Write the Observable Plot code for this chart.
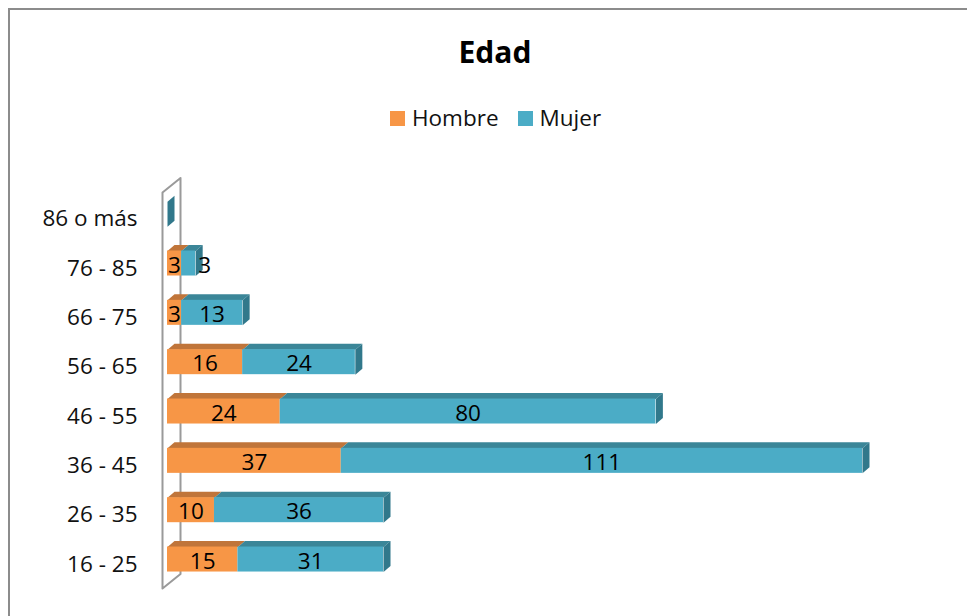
<!DOCTYPE html>
<html>
<head>
<meta charset="utf-8">
<script src="https://cdn.jsdelivr.net/npm/d3@7"></script>
<script src="https://cdn.jsdelivr.net/npm/@observablehq/plot@0.6"></script>
<style>
  html, body { margin: 0; padding: 0; background: #fff; overflow: hidden; width: 967px; height: 616px; }
  #frame { position: absolute; left: 8px; top: 8px; width: 1000px; height: 700px; border-top: 2px solid #8c8c8c; border-left: 2px solid #8c8c8c; box-sizing: border-box; }
  #header { position: relative; height: 160px; font-family: "Open Sans", sans-serif; }
  #title { position: absolute; left: 0; width: 990px; top: 32px; text-align: center; font-weight: 700; font-size: 30px; color: #000; line-height: 40px; }
  #legend { position: absolute; left: 390px; top: 103px; font-size: 22.5px; color: #111; display: flex; align-items: center; line-height: 30px; }
  .sw { display: inline-block; width: 15px; height: 15px; margin-right: 7px; }
  #chart { position: relative; }
</style>
</head>
<body>
<div id="frame"></div>
<div id="header">
  <div id="title">Edad</div>
  <div id="legend">
    <span class="sw" style="background:#F79646"></span><span style="margin-right:19px">Hombre</span>
    <span class="sw" style="background:#4BACC6"></span><span>Mujer</span>
  </div>
</div>
<div id="chart"></div>
<script>
const categories = ["86 o más", "76 - 85", "66 - 75", "56 - 65", "46 - 55", "36 - 45", "26 - 35", "16 - 25"];
const hombre = [0, 3, 3, 16, 24, 37, 10, 15];
const mujer = [0, 3, 13, 24, 80, 111, 36, 31];
const seriesNames = ["Hombre", "Mujer"];

const colors = {
  Hombre: { front: "#F79646", top: "#C0753A" },
  Mujer: { front: "#4BACC6", top: "#3B8698", side: "#31788B" }
};

// scale setup
const XMAX = 148, XR = [167, 862];
const YD = [-0.5, 7.5], YR = [29, 423.7];
const kx = (XR[1] - XR[0]) / XMAX;
const ky = (YR[1] - YR[0]) / (YD[1] - YD[0]);
const ux = px => px / kx, uy = px => px / ky;

const H = uy(12.5);     // half bar height
const DX = ux(7), DY = uy(6); // 3D depth

// segments
const segs = [];
categories.forEach((c, i) => {
  const h = hombre[i], m = mujer[i];
  segs.push({ i, series: "Hombre", x1: 0, x2: h, v: h });
  segs.push({ i, series: "Mujer", x1: h, x2: h + m, v: m });
});

// top-face polygons
const topPolys = { Hombre: [], Mujer: [] };
segs.forEach((s, k) => {
  if (s.v <= 0) return;
  const t = s.i - H;
  [[s.x1, t], [s.x2, t], [s.x2 + DX, t - DY], [s.x1 + DX, t - DY]].forEach(([x, y]) =>
    topPolys[s.series].push({ id: k, x, y }));
});

// side faces at stack ends
const sidePolys = [];
categories.forEach((c, i) => {
  const e = hombre[i] + mujer[i];
  const t = i - H, b = i + H;
  [[e, t], [e + DX, t - DY], [e + DX, b - DY], [e, b]].forEach(([x, y]) => sidePolys.push({ id: i, x, y }));
});

// category wall
const wxL = ux(-5), wxR = ux(13);
const wyT = YD[0] + uy(3), wyB = YD[1] + uy(4.3);
const wdy = uy(14.5);
const wall = [
  { x: wxL, y: wyB }, { x: wxL, y: wyT }, { x: wxR, y: wyT - wdy }, { x: wxR, y: wyB - wdy }, { x: wxL, y: wyB }
];

const labels = segs.filter(s => s.v > 0).map(s => ({
  ...s,
  xm: (s.x1 + s.x2) / 2 + ((s.series === "Mujer" && (s.x2 - s.x1) * kx < 20) ? ux(16) : 0)
}));

const chart = Plot.plot({
  width: 967,
  height: 456,
  marginLeft: 0, marginRight: 0, marginTop: 0, marginBottom: 0,
  x: { domain: [0, XMAX], range: XR, axis: null },
  y: { domain: YD, range: YR, axis: null },
  style: { fontFamily: "Open Sans, sans-serif", background: "transparent" },
  marks: [
    Plot.line(wall, { x: "x", y: "y", stroke: "#9a9a9a", strokeWidth: 2, curve: "linear" }),
    Plot.line(topPolys.Hombre, { x: "x", y: "y", z: "id", fill: colors.Hombre.top, stroke: "none", curve: "linear-closed" }),
    Plot.line(topPolys.Mujer, { x: "x", y: "y", z: "id", fill: colors.Mujer.top, stroke: "none", curve: "linear-closed" }),
    Plot.line(sidePolys, { x: "x", y: "y", z: "id", fill: colors.Mujer.side, stroke: "none", curve: "linear-closed" }),
    Plot.rect(segs.filter(s => s.v > 0), {
      x1: "x1", x2: "x2", y1: d => d.i - H, y2: d => d.i + H,
      fill: d => colors[d.series].front
    }),
    Plot.text(labels, {
      x: "xm", y: "i", text: d => String(d.v), fill: "#000", fontSize: 22.5, dy: 2
    }),
    Plot.text(categories, {
      x: () => 0, y: (d, i) => i, text: d => d, textAnchor: "end", dx: -30, dy: 5,
      fontSize: 22.5, fill: "#111"
    })
  ]
});
document.getElementById("chart").appendChild(chart);
</script>
</body>
</html>
